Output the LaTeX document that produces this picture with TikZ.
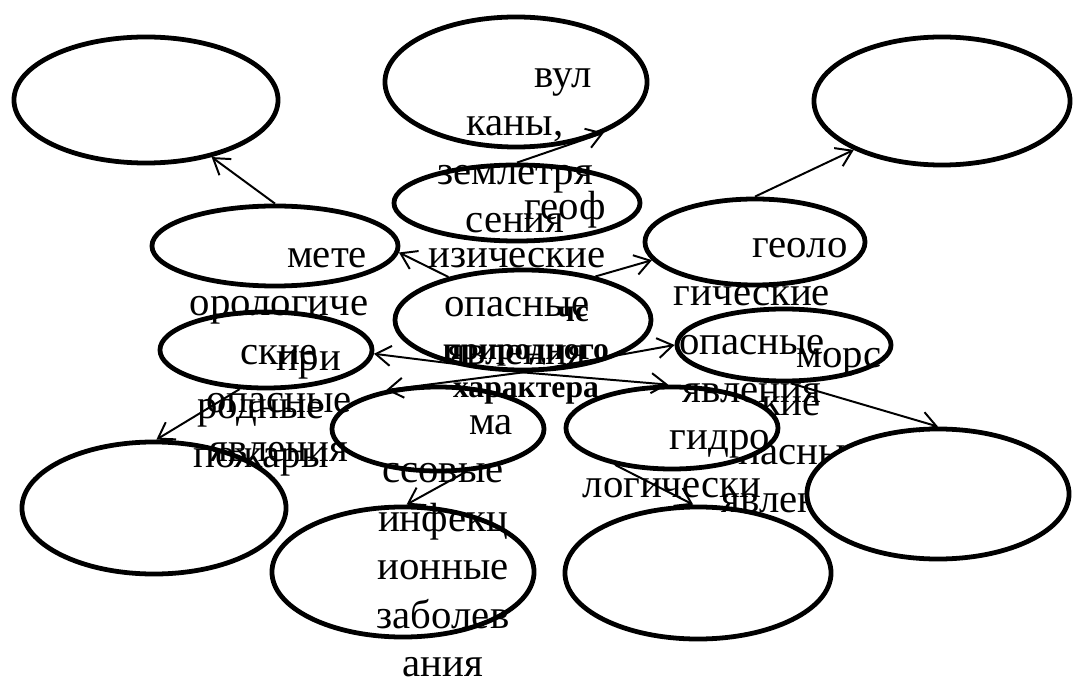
\documentclass[tikz,border=0pt]{standalone}
\usepackage{fontspec}
\setmainfont{Liberation Serif}
\usetikzlibrary{shapes.geometric, arrows.meta}

\begin{document}
\begin{tikzpicture}[x=0.025cm, y=-0.025cm,
        oval/.style={draw, ellipse, fill=white, line width=3.4pt, inner sep=0pt},
        txt/.style={anchor=north, align=center, inner sep=0pt, font=\fontsize{29}{34.5}\selectfont},
        boldtxt/.style={anchor=north, align=center, inner sep=0pt, font=\fontsize{22.5}{27}\selectfont\bfseries},
        arr/.style={-{Straight Barb[length=3.8mm, width=5mm]}, line width=1.4pt}]
        \useasboundingbox (0,0) rectangle (1074,682);

        % Outer ellipses
        \node[oval, minimum width=6.6cm, minimum height=3.15cm] (tl) at (146,100) {};
        \node[oval, minimum width=6.55cm, minimum height=3.25cm] (volc) at (516,82) {};
        \node[oval, minimum width=6.4cm, minimum height=3.2cm] (tr) at (942,101) {};
        \node[oval, minimum width=6.6cm, minimum height=3.3cm] (bl) at (154,508) {};
        \node[oval, minimum width=6.55cm, minimum height=3.25cm] (infect) at (403,572) {};
        \node[oval, minimum width=6.65cm, minimum height=3.3cm] (bc) at (698,573) {};

        % Inner ellipses
        \node[oval, minimum width=6.15cm, minimum height=1.9cm] (geof) at (517,203) {};
        \node[oval, minimum width=6.4cm, minimum height=2.5cm] (chs) at (523,320) {};
        \node[oval, minimum width=6.15cm, minimum height=2cm] (meteo) at (275,246) {};
        \node[oval, minimum width=5.3cm, minimum height=1.9cm] (fire) at (266,350) {};
        \node[oval, minimum width=5.3cm, minimum height=2.1cm] (mass) at (438,429) {};
        \node[oval, minimum width=5.5cm, minimum height=2.15cm] (geol) at (755,242) {};
        \node[oval, minimum width=5.35cm, minimum height=1.8cm] (sea) at (784,345) {};

        % Text partly hidden under the next two
        \node[txt] (seatxt) at (791,333) {\hspace*{2.4cm}\strut морс\\кие\\опасные\\явления};

        \node[oval, minimum width=5.3cm, minimum height=2.05cm] (hydro) at (672,428) {};
        \node[oval, minimum width=6.55cm, minimum height=3.25cm] (rl) at (938,494) {};

        % Texts
        \node[txt] (volctxt) at (515,53) {\hspace*{2.4cm}\strut вул\\каны,\\землетря\\сения};
        \node[txt] (geoftxt) at (517,185) {\hspace*{2.4cm}\strut геоф\\изические\\опасные\\явления};
        \node[txt] (meteotxt) at (279,233) {\hspace*{2.4cm}\strut мете\\орологиче\\ские\\опасные\\явления};
        \node[txt] (geoltxt) at (752,223) {\hspace*{2.4cm}\strut геоло\\гические\\опасные\\явления};
        \node[boldtxt] (chstxt) at (526,295) {\hspace*{2.35cm}\strut чс\\природного\\характера};
        \node[txt] (firetxt) at (261,336) {\hspace*{2.4cm}\strut при\\родные\\пожары};
        \node[txt] (masstxt) at (443,400) {\hspace*{2.4cm}\strut ма\\ссовые\\инфекц\\ионные\\заболев\\ания};
        \node[txt] (hydrotxt) at (672,415) {\hspace*{2.4cm}\strut гидро\\логически};

        % Arrows
        \draw[arr] (chs.150) -- (meteo.-3);
        \draw[arr] (chs.31) -- (geol.190);
        \draw[arr] (chs.south) -- (fire.-2);
        \draw[arr] (chs.south) -- (mass.143);
        \draw[arr] (chs.south) -- (sea.west);
        \draw[arr] (chs.south) -- (hydro.95);
        \draw[arr] (meteo.north) -- (tl.-41);
        \draw[arr] (geol.north) -- (tr.-151);
        \draw[arr] (geof.north) -- (volc.-30);
        \draw[arr] (fire.-124) -- (bl.88);
        \draw[arr] (mass.-57) -- (infect.87);
        \draw[arr] (sea.-80) -- (rl.north);
        \draw[arr] (hydro.-147) -- (bc.94);
    \end{tikzpicture}
\end{document}
